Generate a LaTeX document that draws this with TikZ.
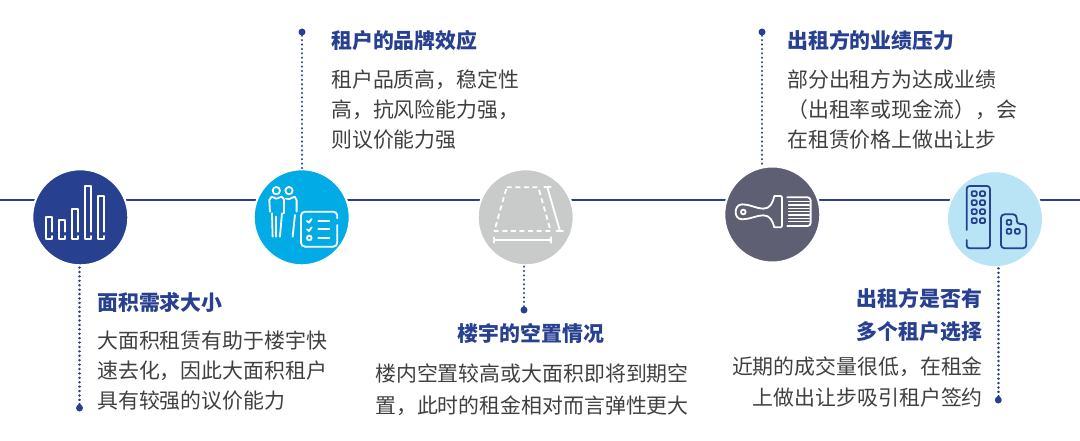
\documentclass[tikz,border=0pt]{standalone}
\usepackage{fontspec}
\setmainfont{Noto Sans CJK SC}
\usepackage{tikz}
\usetikzlibrary{positioning}
\definecolor{navy}{HTML}{27408F}
\definecolor{sky}{HTML}{00ABE6}
\definecolor{stone}{HTML}{C9CACA}
\definecolor{slate}{HTML}{5E5F73}
\definecolor{pale}{HTML}{B8E4F5}
\definecolor{bodygrey}{HTML}{404040}

\begin{document}
\begin{tikzpicture}[
    x=1pt, y=-1pt,
    disc/.style={circle, draw=white, line width=2pt, minimum size=96pt, inner sep=0pt},
    dot/.style={circle, fill=navy, inner sep=0pt, minimum size=7pt},
    dotline/.style={navy, line width=2.6pt, line cap=round, dash pattern=on 0.01pt off 4.4pt},
    head/.style={font=\fontsize{20.9}{33}\selectfont\bfseries, text=navy, inner sep=0pt},
    para/.style={font=\fontsize{20.9}{30}\selectfont, text=bodygrey, inner sep=0pt},
    ico/.style={line width=1.8pt, line join=round, line cap=round},
  ]
    \useasboundingbox (0,0) rectangle (1080,441);

    % ---------- rail ----------
    \coordinate (railL) at (0,200);
    \coordinate (railR) at (1080,200);
    \draw[navy, line width=1.4pt] (railL) -- (railR);

    % ---------- discs ----------
    \node[disc, fill=navy]  (c1) at (80.3,217.3)  {};
    \node[disc, fill=sky]   (c2) at (301.7,217.3) {};
    \node[disc, fill=stone] (c3) at (525.7,217.3) {};
    \node[disc, fill=slate] (c4) at (772.3,214.5) {};
    \node[disc, fill=pale]  (c5) at (995,219.2)   {};

    % ---------- dotted leaders ----------
    \node[dot] (d1) at (79.5,408)  {};
    \node[dot] (d2) at (302,32)    {};
    \node[dot] (d3) at (524,310)   {};
    \node[dot] (d4) at (762,32)    {};
    \node[dot] (d5) at (998.3,400) {};
    \draw[dotline] (d1) -- (d1 |- c1.south);
    \draw[dotline] (d2) -- (d2 |- c2.north);
    \draw[dotline] (d3) -- (d3 |- c3.south);
    \draw[dotline] (d4) -- (d4 |- c4.north);
    \draw[dotline] (d5) -- (d5 |- c5.south);

    % ---------- bars ----------
    \begin{scope}[shift={(0,150)}, x=0.3333pt, y=-0.3333pt, ico, white]
      \foreach \l/\t in {137/200, 176/210, 216/177, 254/108, 294/137}
        \draw (\l+18,245) -- (\l+18,\t) -- (\l,\t) -- (\l,268) -- (\l+18,268) -- (\l+18,258);
    \end{scope}

    % ---------- people and list ----------
    \begin{scope}[shift={(0,150)}, x=0.3333pt, y=-0.3333pt, ico, white]
      \draw (829,122) circle (11);
      \draw (867,122) circle (11);
      \draw (810,185) -- (808,150) -- (815,140) -- (829,146) -- (845,140) -- (852,148) -- (852,190);
      \draw (816,190) -- (818,260);
      \draw (828,200) -- (828,260);
      \draw (840,260) -- (846,190);
      \draw (858,146) -- (868,147) -- (884,140) -- (890,150) -- (890,185);
      \draw (878,260) -- (885,195);
      \draw[rounded corners=4pt] (1012,205) |- (903,185) |- (1012,290) -- (1012,225);
      \draw (921,213) -- (927,218) -- (935,207);
      \draw (921,238) -- (927,243) -- (935,232);
      \draw (928,264) circle (7);
      \foreach \y in {212,238,265}
        \draw (955,\y) -- (988,\y);
    \end{scope}

    % ---------- floor plate ----------
    \begin{scope}[shift={(440,150)}, x=0.3333pt, y=-0.3333pt, ico, white]
      \draw[dash pattern=on 5pt off 3.6pt, line cap=butt] (200,112) -- (295,112) -- (332,243) -- (163,243) -- cycle;
      \draw (162,270) -- (333,270);
      \draw (162,262) -- (162,278);
      \draw (333,262) -- (333,278);
      \draw (322,112) -- (360,243);
      \draw (313,112) -- (332,112);
      \draw (350,243) -- (369,243);
    \end{scope}

    % ---------- brush ----------
    \begin{scope}[shift={(440,150)}, x=0.3333pt, y=-0.3333pt, ico, white]
      \draw (910,186) circle (7);
      \draw (1026,142) .. controls (1026,138) and (1022,138) .. (1018,138) -- (1003,138)
        .. controls (998,160) and (990,176) .. (970,176)
        .. controls (950,176) and (930,163) .. (907,163)
        .. controls (893,163) and (887,175) .. (887,186)
        .. controls (887,197) and (893,208) .. (907,208)
        .. controls (930,208) and (950,196) .. (970,196)
        .. controls (990,196) and (998,212) .. (1003,232) -- (1018,232)
        .. controls (1022,232) and (1026,232) .. (1026,228) -- cycle;
      \draw[rounded corners=3pt] (1042,142) -- (1112,142) -- (1112,228) -- (1042,228);
      \draw[line width=1.2pt] foreach \y in {155,165,175,185,195,205,215} {(1046,\y) -- (1108,\y)};
    \end{scope}

    % ---------- buildings ----------
    \begin{scope}[shift={(900,150)}, x=0.3333pt, y=-0.3333pt, ico, navy]
      \draw[rounded corners=3pt] (200,240) |- (270,108) |- (200,295) -- (200,270);
      \foreach \l in {215,240}
        \foreach \t in {124,151,178,205}
          \draw[rounded corners=1pt] (\l,\t) rectangle (\l+15,\t+14);
      \draw[rounded corners=3.5pt] (303,193) -- (350,193) -- (350,222) -- (379,222) -- (379,295) -- (303,295) -- cycle;
      \draw[rounded corners=1pt] (320,210) rectangle (334,224);
      \draw[rounded corners=1pt] (320,237) rectangle (334,251);
      \draw[rounded corners=1pt] (345,237) rectangle (359,251);
    \end{scope}

    % ---------- texts ----------
    \node[head, anchor=west] (t1) at (97,302) {面积需求大小};
    \node[para, anchor=west, align=left] (b1) at (97,371) {大面积租赁有助于楼宇快\\速去化，因此大面积租户\\具有较强的议价能力};

    \node[head, anchor=west] (t2) at (331,41) {租户的品牌效应};
    \node[para, anchor=west, align=left] (b2) at (331,110) {租户品质高，稳定性\\高，抗风险能力强，\\则议价能力强};

    \node[head] (t3) at (531,333) {楼宇的空置情况};
    \node[para, anchor=west, align=left, font=\fontsize{20.9}{32}\selectfont] (b3) at (375,390) {楼内空置较高或大面积即将到期空\\置，此时的租金相对而言弹性更大};

    \node[head, anchor=west] (t4) at (787,40) {出租方的业绩压力};
    \node[para, anchor=west, align=left] (b4) at (787,110) {部分出租方为达成业绩\\（出租率或现金流），会\\在租赁价格上做出让步};

    \node[head, anchor=east, align=right] (t5) at (982.5,315.5) {出租方是否有\\多个租户选择};
    \node[para, anchor=east, align=right, font=\fontsize{20.9}{31}\selectfont] (b5) at (983,382.5) {近期的成交量很低，在租金\\上做出让步吸引租户签约};
\end{tikzpicture}
\end{document}
